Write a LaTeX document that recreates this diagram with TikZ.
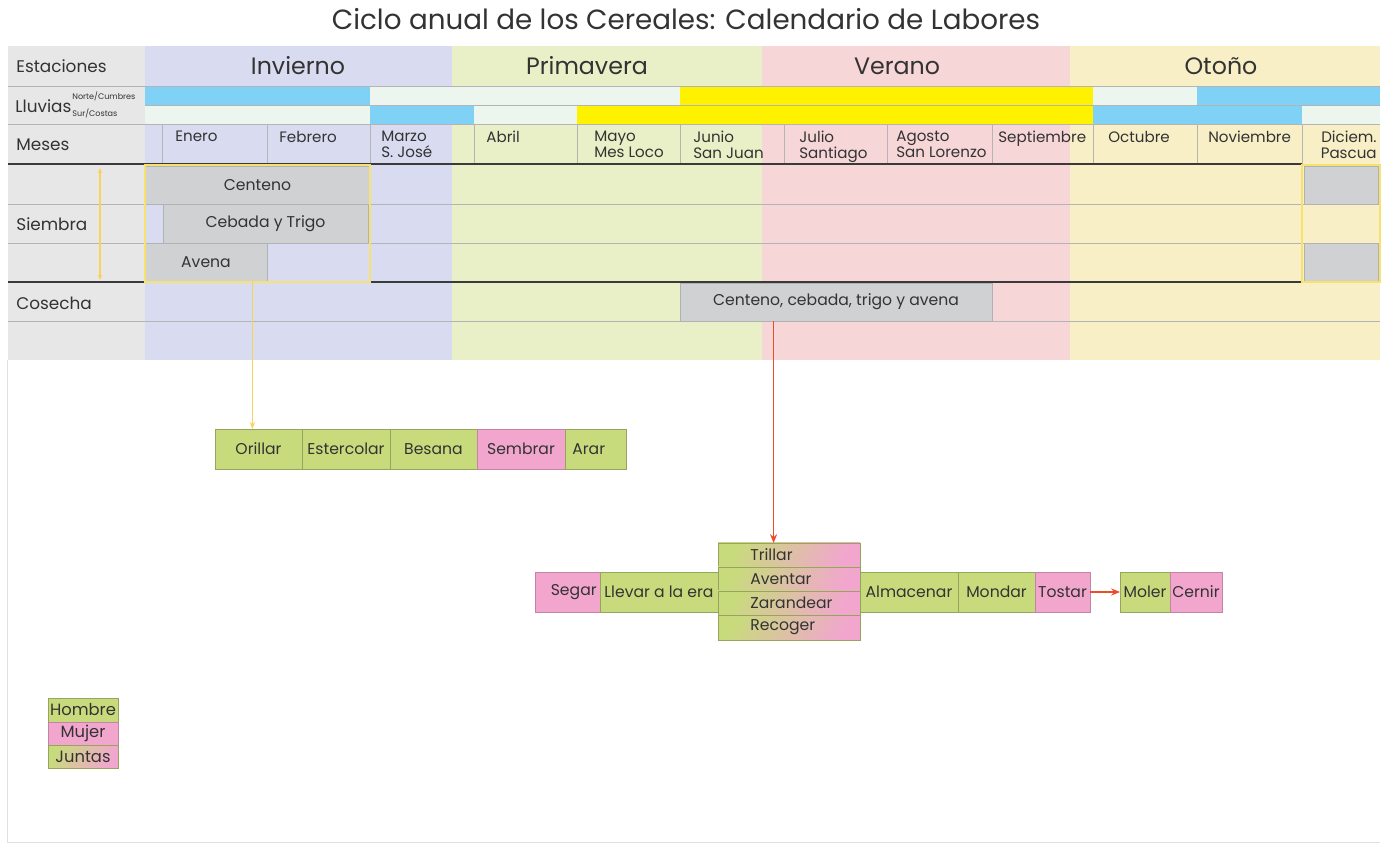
\documentclass[tikz,border=0pt]{standalone}
\usepackage{fontspec}
\setmainfont{Poppins}
\usetikzlibrary{calc,arrows.meta}
\definecolor{tcol}{HTML}{333333}
\definecolor{lblgray}{HTML}{E7E7E8}
\definecolor{inv}{HTML}{D9DCF0}
\definecolor{pri}{HTML}{E9EFC6}
\definecolor{ver}{HTML}{F6D6D6}
\definecolor{oto}{HTML}{F8EFC6}
\definecolor{rblue}{HTML}{7FD2F5}
\definecolor{rpale}{HTML}{ECF5EE}
\definecolor{ryel}{HTML}{FFF200}
\definecolor{boxgray}{HTML}{D0D1D3}
\definecolor{lgreen}{HTML}{C8DB7C}
\definecolor{lpink}{HTML}{F2A6CE}
\definecolor{redarr}{HTML}{EE4A2C}
\definecolor{yline}{HTML}{F6E26C}
\definecolor{gline}{HTML}{B4B4B4}
\definecolor{thick}{HTML}{3A3A3A}
\newcommand\cellnode[7]{%
  \node[#6, minimum width={(#4-#2)*0.02cm}, minimum height={(#5-#3)*0.02cm}] (#1) at ({(#2+#4)/2},{(#3+#5)/2}) {#7};}
\tikzset{
  txt/.style={text=tcol, inner sep=0pt, font=\fontsize{8.9}{10}\selectfont},
  mtxt/.style={text=tcol, inner sep=0pt, align=left, font=\fontsize{8.6}{9}\selectfont},
  ltxt/.style={text=tcol, inner sep=0pt, font=\fontsize{9.6}{11}\selectfont},
  stxt/.style={text=tcol, inner sep=0pt, font=\fontsize{13.5}{15}\selectfont},
  boxbase/.style={inner sep=0pt, outer sep=0pt, text=tcol, line width=0.4pt, font=\fontsize{8.9}{10}\selectfont},
  gbox/.style={boxbase, fill=boxgray, draw=boxgray!85!black},
  hbox/.style={boxbase, fill=lgreen, draw=lgreen!75!black},
  mbox/.style={boxbase, fill=lpink, draw=lpink!80!black},
  jbox/.style={boxbase, draw=lgreen!75!black, left color=lgreen, right color=lpink, shading angle=60},
  legfont/.style={font=\fontsize{9.3}{10}\selectfont},
  thinl/.style={draw=gline, line width=0.4pt},
  thickl/.style={draw=thick, line width=1.7pt},
  youtline/.style={draw=yline, line width=1.4pt},
  yarrow/.style={draw=yline!85!orange, line width=0.7pt, -{Stealth[length=4pt,width=3pt]}},
  ydbl/.style={draw=yline!85!orange, line width=0.7pt, {Stealth[length=3pt,width=2.5pt]}-{Stealth[length=3pt,width=2.5pt]}},
  rarrow/.style={draw=redarr, line width=1pt, -{Stealth[length=5pt,width=4pt]}}
}
\begin{document}
\begin{tikzpicture}[x=0.02cm,y=-0.02cm]
\useasboundingbox (0,0) rectangle (1387,844);
\fill[white] (0,0) rectangle (1387,844);
% frame
\draw[draw=black!12, line width=0.5pt] (7,360) -- (7,842) -- (1380,842);
% title
\node[text=tcol, inner sep=0pt, font=\fontsize{15.8}{17}\selectfont] (title) at (686,19) {Ciclo anual de los Cereales: Calendario de Labores};
% backgrounds
\fill[lblgray] (8,46) rectangle (145,360);
\fill[inv] (145,46) rectangle (452,360);
\fill[pri] (452,46) rectangle (762,360);
\fill[ver] (762,46) rectangle (1070,360);
\fill[oto] (1070,46) rectangle (1380,360);
% rain rows
\fill[rblue] (145,86) rectangle (370,105);
\fill[rpale] (370,86) rectangle (680,105);
\fill[ryel] (680,86) rectangle (1093,105);
\fill[rpale] (1093,86) rectangle (1197,105);
\fill[rblue] (1197,86) rectangle (1380,105);
\fill[rpale] (145,105) rectangle (370,124);
\fill[rblue] (370,105) rectangle (474,124);
\fill[rpale] (474,105) rectangle (577,124);
\fill[ryel] (577,105) rectangle (1093,124);
\fill[rblue] (1093,105) rectangle (1302,124);
\fill[rpale] (1302,105) rectangle (1380,124);
% grid lines
\foreach \yy in {86,124,204,243,321} {\draw[thinl] (8,\yy) -- (1380,\yy);}
\draw[thinl] (145,105) -- (1380,105);
\foreach \xx in {162,267,370,474,577,680,784,887,992,1093,1197,1302} {\draw[thinl] (\xx,124) -- (\xx,164);}
\draw[thickl] (8,164) -- (1302,164);
\draw[thickl] (8,282) -- (1302,282);
% row labels
\node[ltxt, anchor=west] (lest) at (16,66) {Estaciones};
\node[ltxt, anchor=west] (llluv) at (15,106) {Lluvias};
\node[text=tcol, inner sep=0pt, anchor=west, font=\fontsize{4.6}{5}\selectfont] (lnorte) at (72,96) {Norte/Cumbres};
\node[text=tcol, inner sep=0pt, anchor=west, font=\fontsize{4.6}{5}\selectfont] (lsur) at (72,113) {Sur/Costas};
\node[ltxt, anchor=west] (lmes) at (16,145) {Meses};
\node[ltxt, anchor=west] (lsie) at (16,224) {Siembra};
\node[ltxt, anchor=west] (lcos) at (16,303) {Cosecha};
% seasons
\node[stxt] (sinv) at (298,66) {Invierno};
\node[stxt] (spri) at (587,66) {Primavera};
\node[stxt] (sver) at (897,66) {Verano};
\node[stxt] (soto) at (1221,66) {Otoño};
% months
\node[mtxt, anchor=north west] (m1) at (175,131) {Enero};
\node[mtxt, anchor=north west] (m2) at (279,131) {Febrero};
\node[mtxt, anchor=north west] (m3) at (381,131) {Marzo\\S. José};
\node[mtxt, anchor=north west] (m4) at (486,131) {Abril};
\node[mtxt, anchor=north west] (m5) at (594,131) {Mayo\\Mes Loco};
\node[mtxt, anchor=north west] (m6) at (693,131) {Junio\\San Juan};
\node[mtxt, anchor=north west] (m7) at (799,131) {Julio\\Santiago};
\node[mtxt, anchor=north west] (m8) at (896,131) {Agosto\\San Lorenzo};
\node[mtxt, anchor=north west] (m9) at (998,131) {Septiembre};
\node[mtxt, anchor=north west] (m10) at (1108,131) {Octubre};
\node[mtxt, anchor=north west] (m11) at (1208,131) {Noviembre};
\node[mtxt, anchor=north east, align=right] (m12) at (1377,131) {Diciem.\\Pascua};
% siembra boxes
\cellnode{cent}{145}{166}{370}{204}{gbox}{Centeno}
\cellnode{ceba}{163}{204}{368}{243}{gbox}{Cebada y Trigo}
\cellnode{aven}{145}{243}{267}{281}{gbox}{Avena}
\draw[youtline] (145,165) rectangle (370,282);
\cellnode{dic1}{1304}{166}{1378}{204}{gbox}{}
\cellnode{dic2}{1304}{243}{1378}{281}{gbox}{}
\draw[youtline] (1302,165) rectangle (1380,282);
\coordinate (sa) at (100,168);
\coordinate (sb) at (100,280);
\draw[ydbl] (sa) -- (sb);
% cosecha
\cellnode{cos}{680}{283}{992}{321}{gbox}{Centeno, cebada, trigo y avena}
% labor row 1
\cellnode{ori}{215}{429}{302}{469}{hbox}{Orillar}
\cellnode{est}{302}{429}{390}{469}{hbox}{Estercolar}
\cellnode{bes}{390}{429}{477}{469}{hbox}{Besana}
\cellnode{sem}{477}{429}{565}{469}{mbox}{Sembrar}
\cellnode{ara}{565}{429}{626}{469}{hbox}{}
\node[txt, anchor=west] (tara) at ([xshift=0.14cm]ara.west) {Arar};
% labor row 2
\cellnode{seg}{535}{572}{600}{612}{mbox}{}
\node[txt, anchor=east] (tseg) at ([xshift=-0.06cm]seg.east) {Segar};
\cellnode{lle}{600}{572}{718}{612}{hbox}{Llevar a la era}
\cellnode{tri}{718}{543}{860}{567}{jbox}{}
\cellnode{ave}{718}{567}{860}{591}{jbox}{}
\cellnode{zar}{718}{591}{860}{615}{jbox}{}
\cellnode{rec}{718}{615}{860}{640}{jbox}{}
\node[txt, anchor=west] (ttri) at ([xshift=0.64cm]tri.west) {Trillar};
\node[txt, anchor=west] (tave) at ([xshift=0.64cm]ave.west) {Aventar};
\node[txt, anchor=west] (tzar) at ([xshift=0.64cm]zar.west) {Zarandear};
\node[txt, anchor=west] (trec) at ([xshift=0.64cm]rec.west) {Recoger};
\cellnode{alm}{860}{572}{958}{612}{hbox}{Almacenar}
\cellnode{mon}{958}{572}{1035}{612}{hbox}{Mondar}
\cellnode{tos}{1035}{572}{1090}{612}{mbox}{Tostar}
\cellnode{mol}{1120}{572}{1170}{612}{hbox}{Moler}
\cellnode{cer}{1170}{572}{1222}{612}{mbox}{Cernir}
% legend
\cellnode{hom}{48}{698}{118}{722}{hbox,legfont}{Hombre}
\cellnode{muj}{48}{722}{118}{745}{mbox,legfont}{Mujer}
\cellnode{jun}{48}{745}{118}{768}{jbox,legfont}{Juntas}
% connectors
\coordinate (ya) at ($(aven.south west)!0.88!(aven.south east)$);
\draw[yarrow] (ya) -- (ya |- ori.north);
\coordinate (ra) at ($(cos.south west)!0.3!(cos.south east)$);
\draw[rarrow] (ra) -- (ra |- tri.north);
\draw[rarrow] (tos.east) -- (mol.west);
\end{tikzpicture}
\end{document}
